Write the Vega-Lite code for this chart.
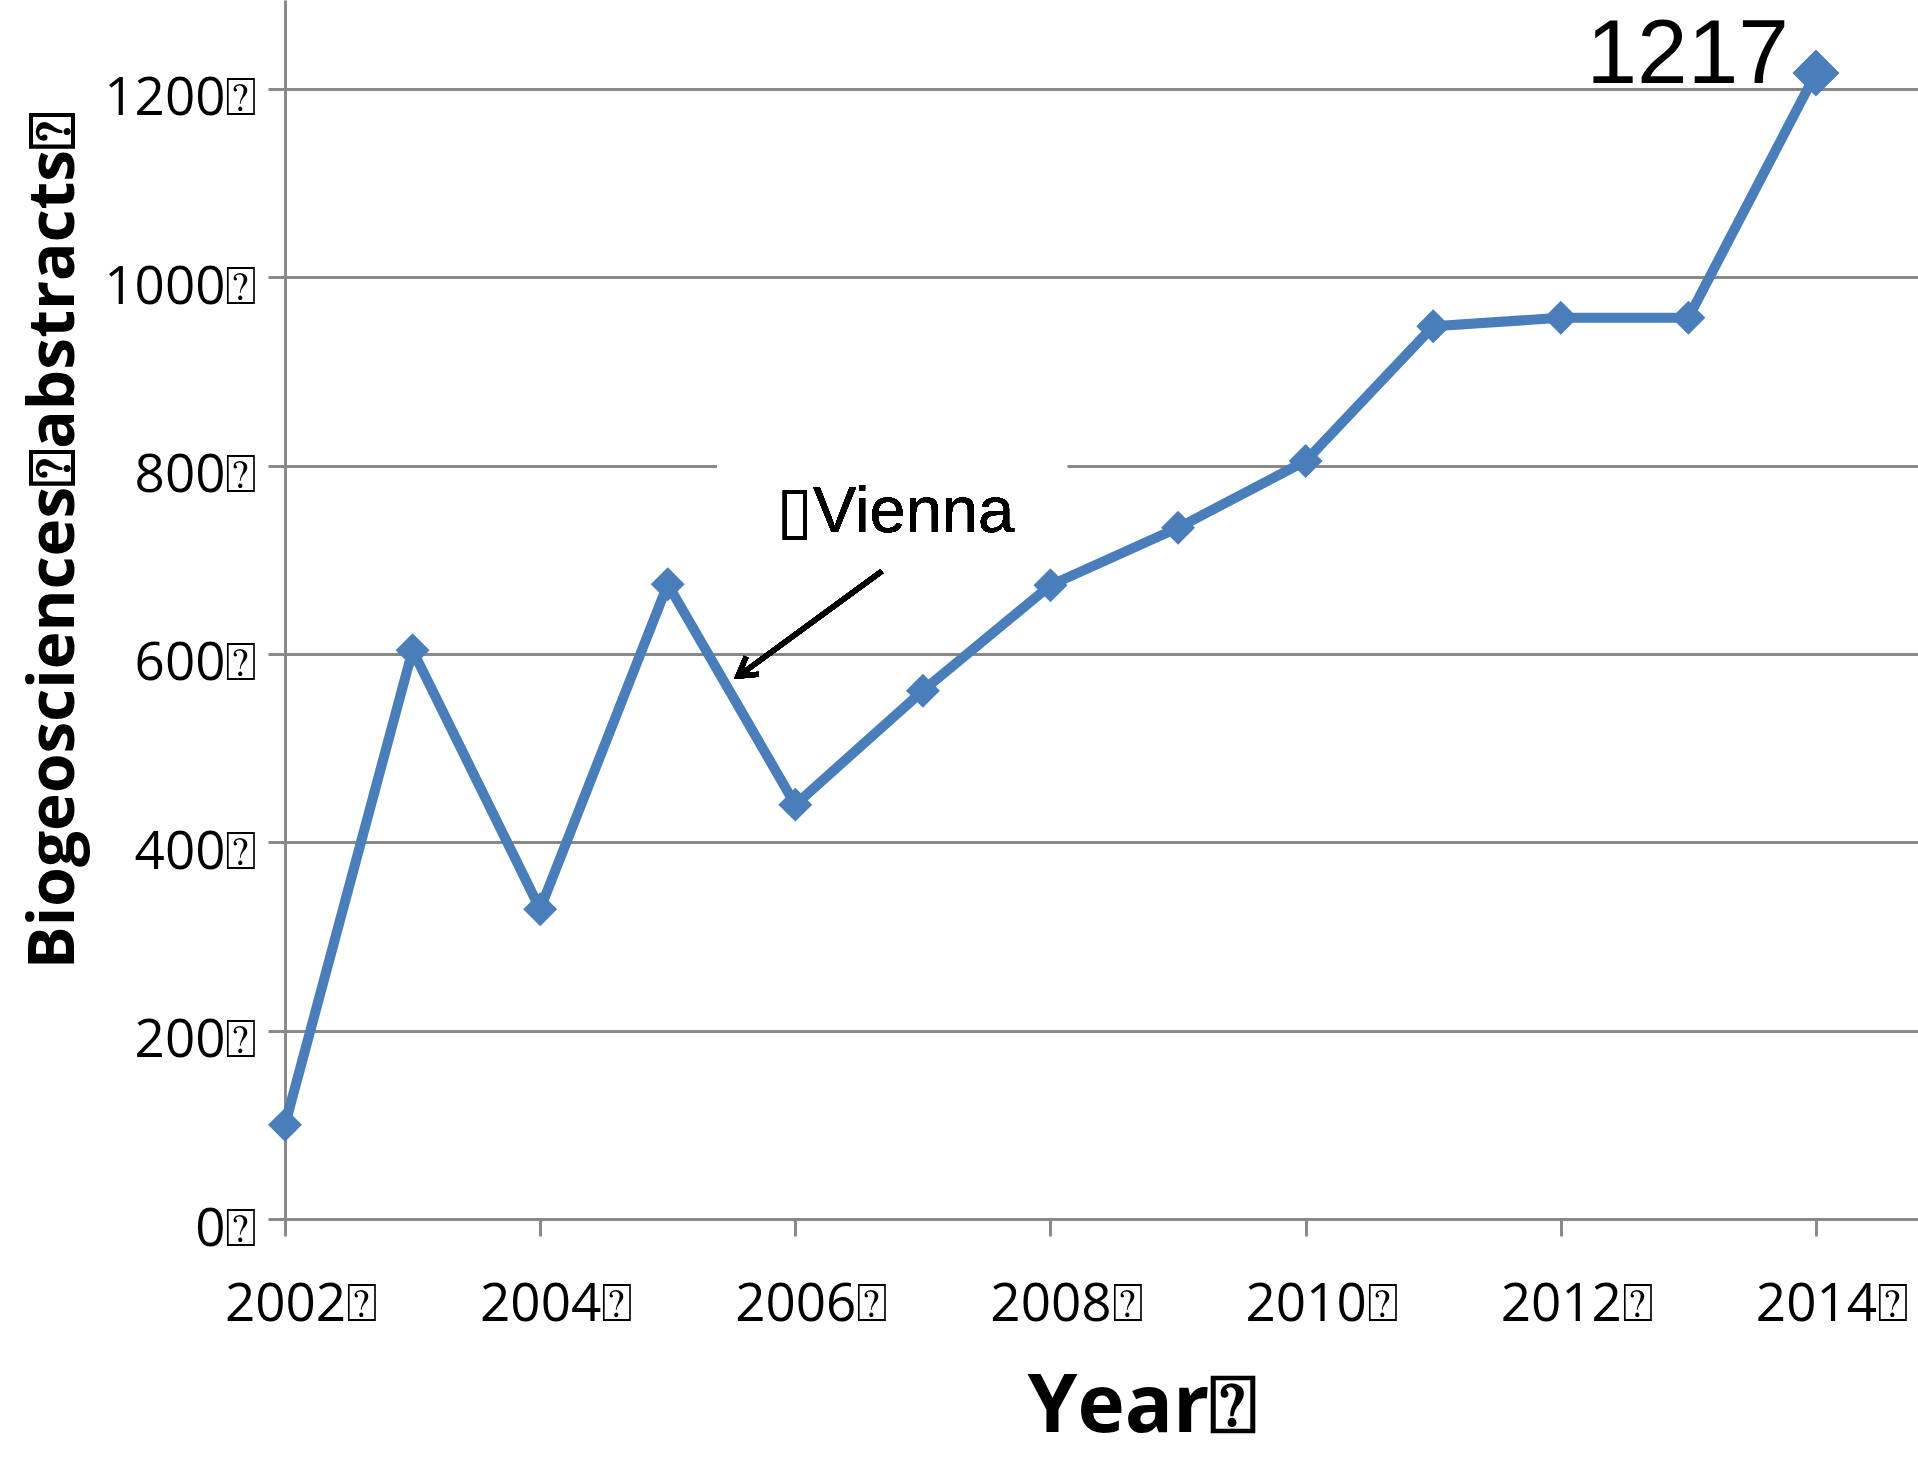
{
  "$schema": "https://vega.github.io/schema/vega-lite/v6.json",
  "width": 1633,
  "height": 1219,
  "autosize": "none",
  "padding": {"left": 285, "top": 0, "right": 0, "bottom": 239},
  "background": "white",
  "config": {"view": {"stroke": null}},
  "data": {
    "values": [
      {"year": 2002, "value": 100},
      {"year": 2003, "value": 604},
      {"year": 2004, "value": 329},
      {"year": 2005, "value": 674},
      {"year": 2006, "value": 440},
      {"year": 2007, "value": 561},
      {"year": 2008, "value": 673},
      {"year": 2009, "value": 734},
      {"year": 2010, "value": 805},
      {"year": 2011, "value": 948},
      {"year": 2012, "value": 957},
      {"year": 2013, "value": 957},
      {"year": 2014, "value": 1217}
    ]
  },
  "layer": [
    {
      "mark": {"type": "line", "color": "#4a7ebb", "strokeWidth": 10, "strokeJoin": "round"},
      "encoding": {
        "x": {
          "field": "year", "type": "quantitative",
          "scale": {"domain": [2002, 2014.8], "nice": false, "zero": false},
          "axis": {
            "title": "Year⍰",
            "values": [2002, 2004, 2006, 2008, 2010, 2012, 2014],
            "format": "d",
            "labelExpr": "datum.label + '⍰'",
            "labelFont": "Open Sans", "labelFontSize": 53, "labelColor": "black",
            "labelPadding": 84, "labelBaseline": "alphabetic", "labelOffset": 16,
            "labelFlush": false, "labelOverlap": false,
            "tickSize": 17, "tickColor": "#898989", "tickWidth": 3,
            "domainColor": "#898989", "domainWidth": 3,
            "grid": false,
            "titleFont": "Open Sans", "titleFontSize": 80, "titleFontWeight": "bold", "titleColor": "black",
            "titleX": 857, "titleY": 212, "titleBaseline": "alphabetic", "titleAlign": "center"
          }
        },
        "y": {
          "field": "value", "type": "quantitative",
          "scale": {"domain": [0, 1294.5], "nice": false},
          "axis": {
            "title": "Biogeosciences⍰abstracts⍰",
            "values": [0, 200, 400, 600, 800, 1000, 1200],
            "format": "d",
            "labelExpr": "datum.label + '⍰'",
            "labelFont": "Open Sans", "labelFontSize": 53, "labelColor": "black",
            "labelPadding": 11, "labelBaseline": "alphabetic", "labelOffset": 26,
            "labelFlush": false, "labelOverlap": false,
            "tickSize": 17, "tickColor": "#898989", "tickWidth": 3,
            "domainColor": "#898989", "domainWidth": 3,
            "grid": true, "gridColor": "#898989", "gridWidth": 3,
            "titleFont": "Open Sans", "titleFontSize": 64, "titleFontWeight": "bold", "titleColor": "black",
            "titleAngle": 270,
            "titleX": -212, "titleY": 540, "titleBaseline": "alphabetic", "titleAlign": "center"
          }
        }
      }
    },
    {
      "mark": {"type": "rect", "fill": "white"},
      "encoding": {
        "x": {"datum": 2005.39, "type": "quantitative"},
        "x2": {"datum": 2008.13},
        "y": {"datum": 785, "type": "quantitative"},
        "y2": {"datum": 815}
      }
    },
    {
      "transform": [{"filter": "datum.year < 2014"}],
      "mark": {"type": "point", "shape": "diamond", "filled": true, "color": "#4a7ebb", "opacity": 1, "size": 1150},
      "encoding": {
        "x": {"field": "year", "type": "quantitative"},
        "y": {"field": "value", "type": "quantitative"}
      }
    },
    {
      "transform": [{"filter": "datum.year == 2014"}],
      "mark": {"type": "point", "shape": "diamond", "filled": true, "color": "#4a7ebb", "opacity": 1, "size": 2209},
      "encoding": {
        "x": {"field": "year", "type": "quantitative"},
        "y": {"field": "value", "type": "quantitative"}
      }
    },
    {
      "transform": [{"filter": "datum.year == 2014"}],
      "mark": {"type": "text", "font": "Liberation Sans", "fontSize": 91, "color": "black", "align": "right", "baseline": "alphabetic", "dx": -27, "dy": 10},
      "encoding": {
        "x": {"field": "year", "type": "quantitative"},
        "y": {"field": "value", "type": "quantitative"},
        "text": {"field": "value", "type": "quantitative", "format": "d"}
      }
    },
    {
      "mark": {"type": "text", "text": "▯Vienna", "font": "Liberation Sans", "fontSize": 65, "color": "black", "align": "left", "baseline": "alphabetic"},
      "encoding": {
        "x": {"datum": 2005.856, "type": "quantitative"},
        "y": {"datum": 729.5, "type": "quantitative"}
      }
    },
    {
      "mark": {"type": "rule", "color": "black", "strokeWidth": 5},
      "encoding": {
        "x": {"datum": 2006.679, "type": "quantitative"},
        "y": {"datum": 688, "type": "quantitative"},
        "x2": {"datum": 2005.57},
        "y2": {"datum": 578}
      }
    },
    {
      "mark": {"type": "point", "shape": "M -0.6 1 L 0 0 L 0.6 1", "filled": false, "stroke": "black", "strokeWidth": 5, "opacity": 1, "angle": 234, "size": 1300, "strokeJoin": "miter"},
      "encoding": {
        "x": {"datum": 2005.55, "type": "quantitative"},
        "y": {"datum": 576.6, "type": "quantitative"}
      }
    }
  ]
}
